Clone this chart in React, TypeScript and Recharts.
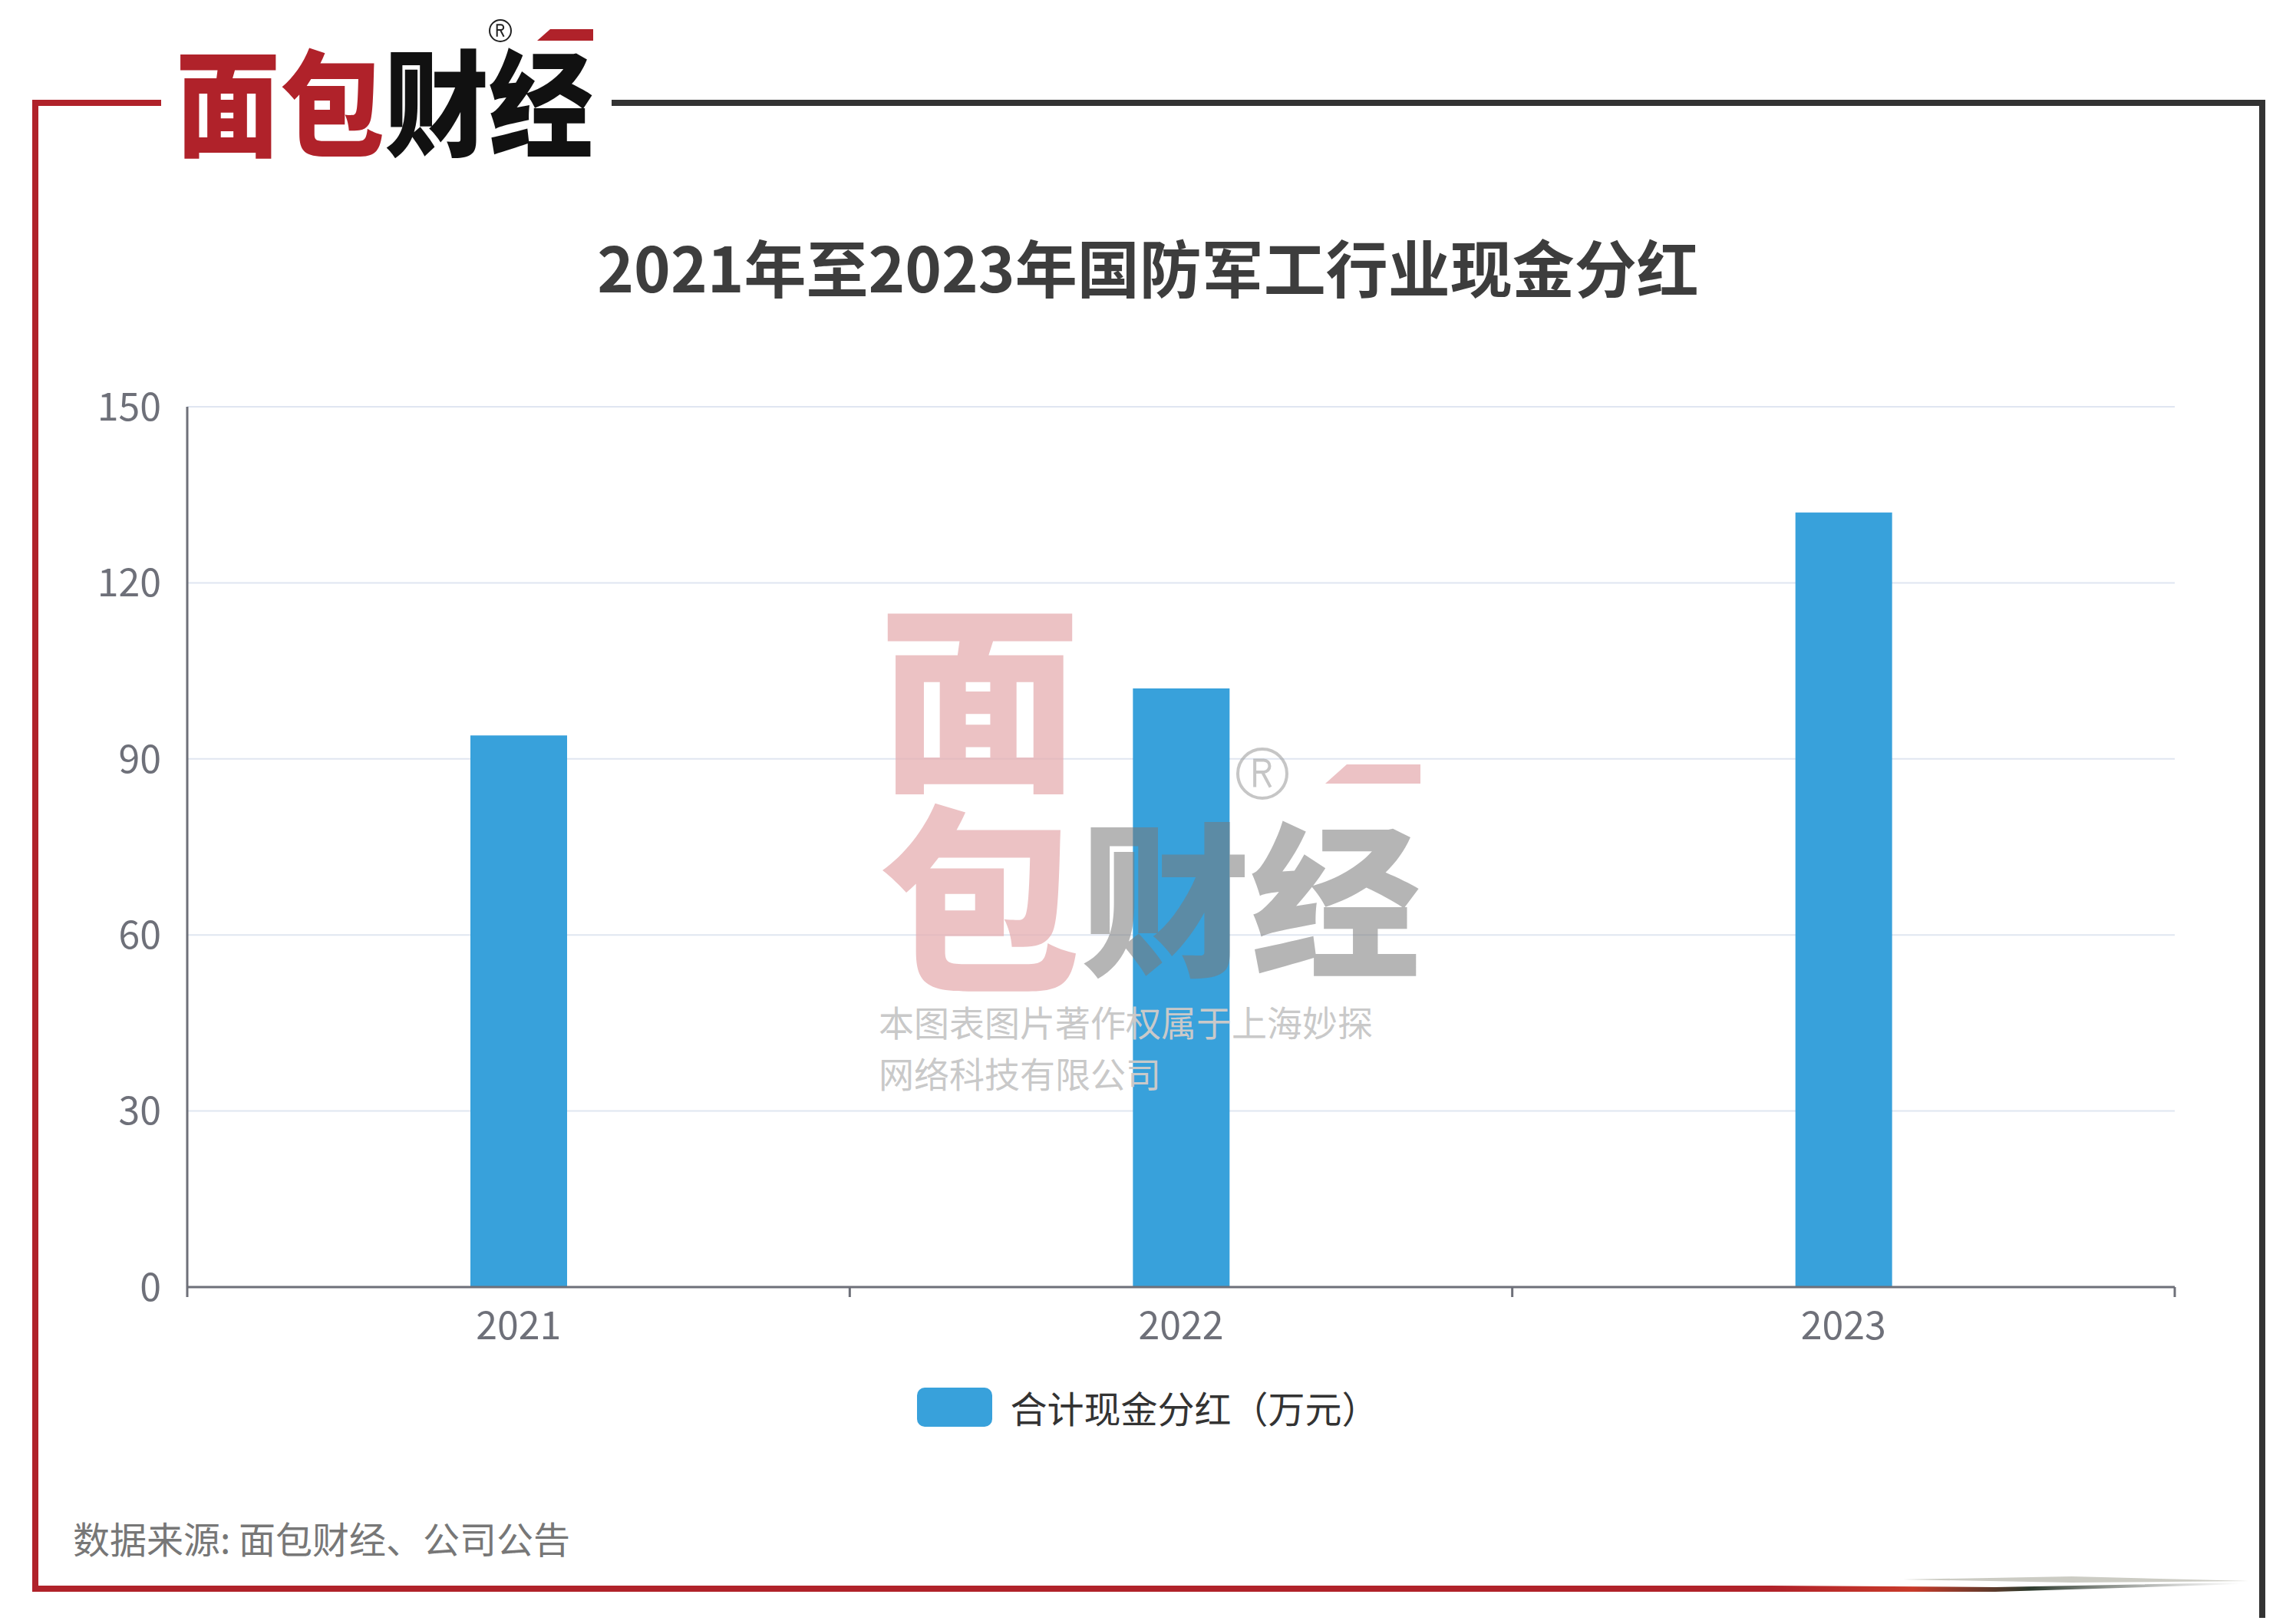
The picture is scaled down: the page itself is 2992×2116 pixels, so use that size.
import { Bar, BarChart, CartesianGrid, Legend, XAxis, YAxis } from "recharts";

const categories = ["2021", "2022", "2023"];
const dividends = [94, 102, 132];
const yTicks = [0, 30, 60, 90, 120, 150];
const seriesName = "合计现金分红（万元）";
const title = "2021年至2023年国防军工行业现金分红";
const source = "数据来源: 面包财经、公司公告";
const watermarkLines = ["本图表图片著作权属于上海妙探", "网络科技有限公司"];

const data = categories.map((year, i) => ({ year, value: dividends[i] }));

const W = 2992;
const H = 2116;
const FONT = '"Noto Sans CJK SC", "Noto Sans", sans-serif';
const BLUE = "#38a1db";
const AXIS = "#6e7079";
const RED = "#b0222a";

function YearTick(props: any) {
  const { x, y, payload, index, width, visibleTicksCount } = props;
  const band = payload?.offset ? payload.offset * 2 : width / visibleTicksCount;
  const left = x - band / 2;
  return (
    <g>
      <line x1={left} x2={left} y1={y} y2={y + 13} stroke={AXIS} strokeWidth={3} />
      {index === visibleTicksCount - 1 && (
        <line x1={x + band / 2} x2={x + band / 2} y1={y} y2={y + 13} stroke={AXIS} strokeWidth={3} />
      )}
      <text x={x} y={y + 50} dy="0.35em" textAnchor="middle" fill={AXIS} fontSize={50} fontFamily={FONT}>
        {payload.value}
      </text>
    </g>
  );
}

function LegendBox(props: any) {
  const item = props.payload?.[0];
  return (
    <div style={{ display: "flex", justifyContent: "center", alignItems: "center", gap: 23 }}>
      <div style={{ width: 98, height: 51, borderRadius: 10, background: item?.color ?? BLUE }} />
      <span style={{ fontSize: 48, lineHeight: "51px", color: "#333", fontFamily: FONT }}>{item?.value}</span>
    </div>
  );
}

// registered mark, drawn as strokes
function Registered({ cx, cy, r, color, w }: { cx: number; cy: number; r: number; color: string; w: number }) {
  const s = r * 1.1;
  const l = cx - 0.28 * s;
  const t = cy - 0.5 * s;
  const d = `M${l} ${cy + 0.5 * s} V${t} H${cx + 0.05 * s} A${0.22 * s} ${0.22 * s} 0 0 1 ${cx + 0.05 * s} ${cy - 0.06 * s} H${l} M${cx} ${cy - 0.06 * s} L${cx + 0.3 * s} ${cy + 0.5 * s}`;
  return (
    <g fill="none" stroke={color} strokeWidth={w}>
      <circle cx={cx} cy={cy} r={r} />
      <path d={d} />
    </g>
  );
}

function Decor() {
  return (
    <svg width={W} height={H} style={{ position: "absolute", left: 0, top: 0, pointerEvents: "none" }}>
      <defs>
        <linearGradient id="brush" x1="0" x2="1" y1="0" y2="0">
          <stop offset="0" stopColor={RED} />
          <stop offset="0.3" stopColor="#c83a2a" />
          <stop offset="0.55" stopColor="#2c3a2c" />
          <stop offset="1" stopColor="#777" stopOpacity="0" />
        </linearGradient>
      </defs>
      {/* frame */}
      <rect x={42} y={130} width={168} height={8} fill={RED} />
      <rect x={42} y={130} width={8} height={1944} fill={RED} />
      <rect x={42} y={2066} width={2267} height={8} fill={RED} />
      <path d="M2309 2066 L2600 2068 L2920 2062 L2920 2064 L2600 2074 L2309 2074 Z" fill="url(#brush)" />
      <path d="M2480 2058 L2700 2054 L2930 2060 L2700 2062 Z" fill="#9a9a8a" opacity={0.5} />
      <rect x={797} y={130} width={2155} height={8} fill="#333" />
      <rect x={2944} y={130} width={8} height={1978} fill="#333" />

      {/* logo */}
      <text x={229} y={192} fontSize={150} fontWeight={900} fontFamily={FONT} textLength={544} lengthAdjust="spacingAndGlyphs">
        <tspan fill={RED}>面包</tspan>
        <tspan fill="#111">财经</tspan>
      </text>
      <Registered cx={652} cy={40} r={14} color="#222" w={2} />
      <path d="M717 38 L773 38 L773 53 L700 53 Z" fill={RED} />

      {/* title */}
      <text x={1496} y={353} dy="0.35em" textAnchor="middle" fontSize={81} fontWeight={700} fontFamily={FONT} fill="#3d3d3d">
        {title}
      </text>

      {/* watermark */}
      <text fontSize={262} fontWeight={900} fontFamily={FONT} fill="#e6aeb1" opacity={0.75}>
        <tspan x={1145} y={1010} textLength={263} lengthAdjust="spacingAndGlyphs">面</tspan>
        <tspan x={1145} y={1272} textLength={263} lengthAdjust="spacingAndGlyphs">包</tspan>
      </text>
      <g opacity={0.55}>
        <text x={1408} y={1255} fontSize={215} fontWeight={900} fontFamily={FONT} fill="#7a7a7a" textLength={443} lengthAdjust="spacingAndGlyphs">财经</text>
        <Registered cx={1645} cy={1008} r={32} color="#999" w={4} />
      </g>
      <path d="M1755 996 L1851 996 L1851 1021 L1727 1021 Z" fill="#e6aeb1" opacity={0.75} />
      {watermarkLines.map((line, i) => (
        <text key={line} x={1145} y={1334 + i * 67} dy="0.35em" fontSize={46} fontFamily={FONT} fill="#c9c9c9">
          {line}
        </text>
      ))}

      {/* source */}
      <text x={95} y={2007} dy="0.35em" fontSize={48} fontFamily={FONT} fill="#777">
        {source}
      </text>
    </svg>
  );
}

export default function App() {
  return (
    <div style={{ position: "absolute", left: 0, top: 0, width: W, height: H, background: "#fff", overflow: "hidden" }}>
      <div style={{ position: "absolute", left: 0, top: 0 }}>
        <BarChart
          width={W}
          height={H}
          data={data}
          margin={{ top: 530, right: 158, left: 144, bottom: 339 }}
        >
          <CartesianGrid vertical={false} stroke="#e0e6f1" strokeWidth={2} />
          <XAxis
            dataKey="year"
            height={100}
            stroke={AXIS}
            strokeWidth={3}
            tickLine={false}
            tickSize={0}
            tickMargin={0}
            tick={<YearTick />}
            interval={0}
          />
          <YAxis
            width={100}
            domain={[0, 150]}
            ticks={yTicks}
            stroke={AXIS}
            strokeWidth={3}
            tickLine={false}
            tickSize={0}
            tickMargin={34}
            tick={{ fill: AXIS, fontSize: 50, fontFamily: FONT }}
            interval={0}
          />
          <Legend
            layout="horizontal"
            verticalAlign="middle"
            align="center"
            wrapperStyle={{ top: 1808, left: 15, width: 2962 }}
            content={<LegendBox />}
          />
          <Bar dataKey="value" name={seriesName} fill={BLUE} barSize={126} isAnimationActive={false} />
        </BarChart>
      </div>
      <Decor />
    </div>
  );
}
